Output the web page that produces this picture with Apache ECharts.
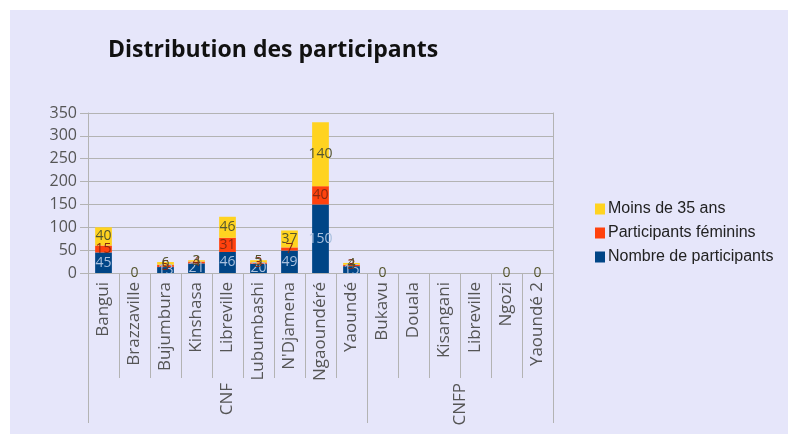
<!DOCTYPE html>
<html>
<head>
<meta charset="utf-8">
<script src="https://cdn.jsdelivr.net/npm/echarts@6/dist/echarts.min.js"></script>
<style>
html,body{margin:0;padding:0;background:#ffffff;width:796px;height:443px;overflow:hidden;}
#c{position:absolute;left:10px;top:10px;width:778px;height:424px;background:#e6e6fa;}
</style>
</head>
<body>
<div id="c"></div>
<script>
var categories = ['Bangui','Brazzaville','Bujumbura','Kinshasa','Libreville','Lubumbashi',"N'Djamena",'Ngaoundéré','Yaoundé','Bukavu','Douala','Kisangani','Libreville','Ngozi','Yaoundé 2'];
var groups = ['CNF','CNFP'];
var groupSizes = [9, 6];
var nombre = [45, 0, 13, 21, 46, 20, 49, 150, 15, 0, null, null, null, 0, 0];
var feminins = [15, 0, 5, 4, 31, 3, 7, 40, 3, 0, null, null, null, 0, 0];
var moins35 = [40, 0, 6, 3, 46, 5, 37, 140, 4, 0, null, null, null, 0, 0];
var yTicks = [0, 50, 100, 150, 200, 250, 300, 350];

// build group axis: 2 points per category + 1 (boundaryGap false)
var groupAxisData = [];
for (var i = 0; i <= categories.length * 2; i++) groupAxisData.push('');
var groupBounds = [0];
var acc = 0;
for (var g = 0; g < groups.length; g++) {
  groupAxisData[acc * 2 + groupSizes[g]] = groups[g];
  acc += groupSizes[g];
  groupBounds.push(acc * 2);
}

var font = 'Open Sans';
var chart = echarts.init(document.getElementById('c'));
function hideZero(p){ return p.value === 0 ? '' : String(p.value); }
chart.setOption({
  animation: false,
  title: {
    text: 'Distribution des participants',
    left: 98, top: 29, padding: 0,
    textStyle: {fontFamily: font, fontSize: 23, fontWeight: 'bold', color: '#111111'}
  },
  legend: {
    orient: 'vertical', left: 580, top: 186,
    itemWidth: 10, itemHeight: 11, itemGap: 8,
    icon: 'rect',
    data: ['Moins de 35 ans', 'Participants féminins', 'Nombre de participants'],
    textStyle: {fontFamily: 'Liberation Sans', fontSize: 16, color: '#222222', padding: [0,0,0,-2]}
  },
  grid: {left: 78, top: 103, right: 235, bottom: 161},
  xAxis: [
    {
      type: 'category', data: categories, position: 'bottom',
      axisLine: {show: true, lineStyle: {color: '#b3b3b3'}},
      axisTick: {show: true, interval: 0, length: 105, lineStyle: {color: '#b3b3b3'}},
      axisLabel: {interval: 0, rotate: 90, margin: 9, fontFamily: font, fontSize: 17, color: '#555555'}
    },
    {
      type: 'category', data: groupAxisData, position: 'bottom', boundaryGap: false,
      axisLine: {show: false},
      axisTick: {show: true, length: 150, lineStyle: {color: '#b3b3b3'},
        interval: function(idx){ return groupBounds.indexOf(idx) >= 0; }},
      axisLabel: {interval: 0, rotate: 90, margin: 110, fontFamily: font, fontSize: 17, color: '#555555'}
    }
  ],
  yAxis: [
    {
      type: 'value', min: 0, max: 350, interval: 50,
      axisLine: {show: true, lineStyle: {color: '#b3b3b3'}},
      axisTick: {show: true, length: 8, lineStyle: {color: '#b3b3b3'}},
      splitLine: {lineStyle: {color: '#b3b3b3'}},
      axisLabel: {fontFamily: font, fontSize: 16, color: '#555555', margin: 11,
        formatter: function(v){ return yTicks.indexOf(v) >= 0 ? String(v) : ''; }}
    },
    {
      type: 'value', min: 0, max: 350, interval: 50, position: 'right',
      axisLine: {show: true, lineStyle: {color: '#b3b3b3'}},
      axisTick: {show: false}, splitLine: {show: false}, axisLabel: {show: false}
    }
  ],
  series: [
    {
      name: 'Nombre de participants', type: 'bar', stack: 'a', data: nombre,
      barCategoryGap: '46%', itemStyle: {color: '#004586'},
      label: {show: true, position: 'inside', formatter: hideZero, fontFamily: font, fontSize: 14, color: '#a9c0de'}
    },
    {
      name: 'Participants féminins', type: 'bar', stack: 'a', data: feminins,
      itemStyle: {color: '#ff420e'},
      label: {show: true, position: 'inside', formatter: hideZero, fontFamily: font, fontSize: 14, color: '#8a2a10'}
    },
    {
      name: 'Moins de 35 ans', type: 'bar', stack: 'a', data: moins35,
      itemStyle: {color: '#ffd320'},
      label: {show: true, position: 'inside', fontFamily: font, fontSize: 14, color: '#55552e'}
    }
  ]
});
</script>
</body>
</html>
